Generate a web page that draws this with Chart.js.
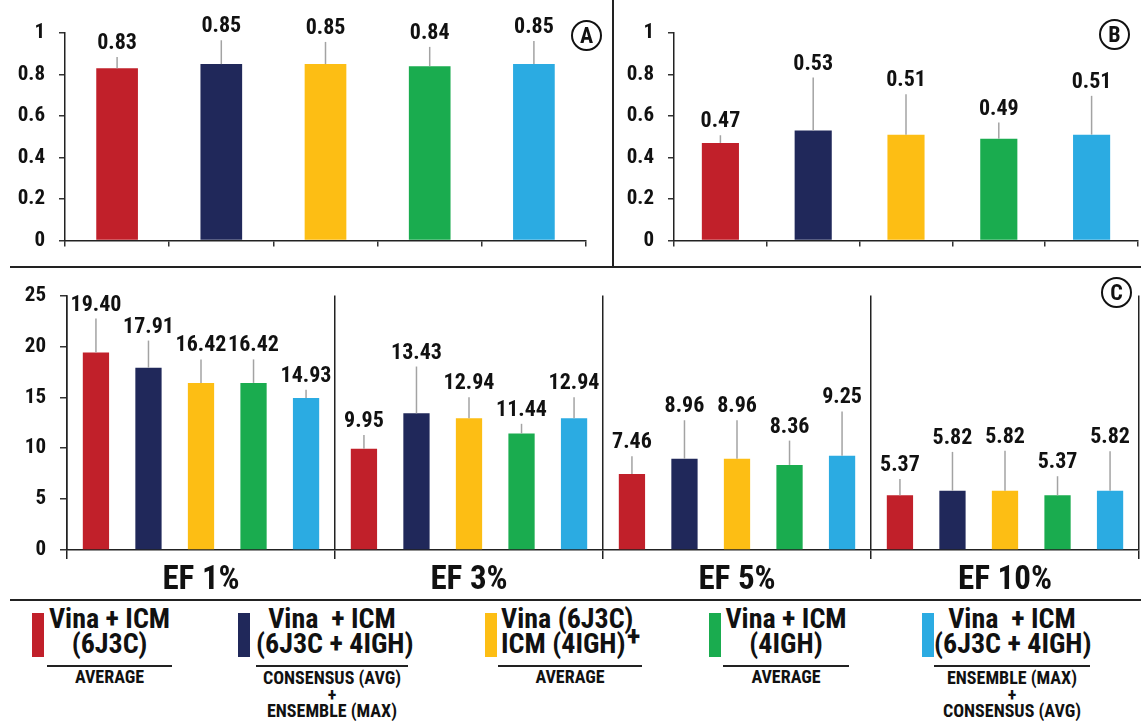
<!DOCTYPE html>
<html>
<head>
<meta charset="utf-8">
<script src="https://cdn.jsdelivr.net/npm/chart.js@4"></script>
<style>
  html, body { margin: 0; padding: 0; background: #fff; }
  body { width: 1141px; height: 721px; position: relative; overflow: hidden;
         font-family: 'Roboto Condensed', Roboto, sans-serif; font-stretch: condensed;
         font-weight: bold; color: #111; }
  canvas { position: absolute; }
  .line { position: absolute; background: #222; }
  .badge { position: absolute; width: 27px; height: 27px; border: 2px solid #111; border-radius: 50%;
           font-size: 22px; line-height: 27px; text-align: center; }
  .sw { position: absolute; width: 12px; height: 44px; top: 613px; }
  .big { position: absolute; font-size: 28px; line-height: 25px; white-space: nowrap; }
  .small { position: absolute; font-size: 18px; line-height: 16.5px; white-space: nowrap; text-align: center; }
</style>
</head>
<body>
<canvas id="chartA" width="614" height="267" style="left:0;top:0"></canvas>
<canvas id="chartB" width="527" height="267" style="left:614px;top:0"></canvas>
<canvas id="chartC" width="1141" height="331" style="left:0;top:269px"></canvas>

<div class="line" style="left:612px;top:0;width:2px;height:267px"></div>
<div class="line" style="left:10px;top:266px;width:1131px;height:2px"></div>
<div class="line" style="left:10px;top:599px;width:1131px;height:2px"></div>

<div class="badge" style="left:571px;top:20px">A</div>
<div class="badge" style="left:1099px;top:19px">B</div>
<div class="badge" style="left:1101px;top:277px">C</div>

<!-- legend -->
<div class="sw" style="left:32px;background:#C1202A"></div>
<div class="big" style="left:47px;width:125px;top:606px;text-align:center">Vina + ICM<br>(6J3C)</div>
<div class="line" style="left:47px;top:665px;width:125px;height:2px"></div>
<div class="small" style="left:47px;width:125px;top:669px">AVERAGE</div>

<div class="sw" style="left:238px;background:#20285A"></div>
<div class="big" style="left:256px;width:152px;top:606px;text-align:center">Vina&nbsp; + ICM<br>(6J3C + 4IGH)</div>
<div class="line" style="left:256px;top:665px;width:152px;height:2px"></div>
<div class="small" style="left:256px;width:152px;top:670px">CONSENSUS (AVG)<br>+<br>ENSEMBLE (MAX)</div>

<div class="sw" style="left:485px;background:#FDBE14"></div>
<div class="big" style="left:501px;top:606px;text-align:left">Vina (6J3C)<br>ICM (4IGH)</div>
<div class="big" style="left:627px;top:624px">+</div>
<div class="line" style="left:498px;top:665px;width:144px;height:2px"></div>
<div class="small" style="left:498px;width:144px;top:669px">AVERAGE</div>

<div class="sw" style="left:709px;background:#1AAC4F"></div>
<div class="big" style="left:723px;width:126px;top:606px;text-align:center">Vina + ICM<br>(4IGH)</div>
<div class="line" style="left:723px;top:665px;width:126px;height:2px"></div>
<div class="small" style="left:723px;width:126px;top:669px">AVERAGE</div>

<div class="sw" style="left:922px;background:#2BABE2"></div>
<div class="big" style="left:934px;width:156px;top:606px;text-align:center">Vina&nbsp; + ICM<br>(6J3C + 4IGH)</div>
<div class="line" style="left:934px;top:665px;width:156px;height:2px"></div>
<div class="small" style="left:934px;width:156px;top:670px">ENSEMBLE (MAX)<br>+<br>CONSENSUS (AVG)</div>

<script>
// method names and colours (same order everywhere)
const methodNames = ['Vina + ICM (6J3C)', 'Vina + ICM (6J3C + 4IGH) cons+ens', 'Vina (6J3C) + ICM (4IGH)',
                     'Vina + ICM (4IGH)', 'Vina + ICM (6J3C + 4IGH) ens+cons'];
const methodColors = ['#C1202A', '#20285A', '#FDBE14', '#1AAC4F', '#2BABE2'];

// panel A
const panelAValues = [0.83, 0.85, 0.85, 0.84, 0.85];
const panelAErrors = [0.054, 0.115, 0.107, 0.093, 0.112];

// panel B
const panelBValues = [0.47, 0.53, 0.51, 0.49, 0.51];
const panelBErrors = [0.037, 0.255, 0.195, 0.078, 0.187];

// panel C, one array per method across the EF levels
const efLabels = ['EF 1%', 'EF 3%', 'EF 5%', 'EF 10%'];
const redValues    = [19.40, 9.95, 7.46, 5.37];
const redErrors    = [3.34, 1.34, 1.76, 1.60];
const navyValues   = [17.91, 13.43, 8.96, 5.82];
const navyErrors   = [2.67, 4.60, 3.79, 3.82];
const yellowValues = [16.42, 12.94, 8.96, 5.82];
const yellowErrors = [2.31, 2.07, 3.79, 3.94];
const greenValues  = [16.42, 11.44, 8.36, 5.37];
const greenErrors  = [2.31, 0.96, 2.39, 1.88];
const blueValues   = [14.93, 12.94, 9.25, 5.82];
const blueErrors   = [0.81, 2.07, 4.37, 3.88];

const FONT = "'Roboto Condensed', Roboto, sans-serif";
Chart.defaults.font.family = FONT;
Chart.defaults.font.weight = 'bold';
Chart.defaults.color = '#111';

// make every canvas text condensed
const condensed = {
  id: 'condensed',
  beforeDraw(chart) { chart.ctx.fontStretch = 'condensed'; }
};

// draws the upper error line and the value above it
const errorLabels = {
  id: 'errorLabels',
  afterDatasetsDraw(chart, args, opts) {
    const ctx = chart.ctx;
    const y = chart.scales.y;
    chart.data.datasets.forEach((ds, di) => {
      chart.getDatasetMeta(di).data.forEach((bar, i) => {
        const v = ds.data[i];
        const top = y.getPixelForValue(v + ds.errors[i]);
        ctx.save();
        ctx.strokeStyle = '#a3a3a3';
        ctx.lineWidth = 1.5;
        ctx.beginPath();
        ctx.moveTo(bar.x, bar.y);
        ctx.lineTo(bar.x, top);
        ctx.stroke();
        ctx.fillStyle = '#111';
        ctx.fontStretch = 'condensed';
        ctx.font = 'bold ' + opts.size + 'px ' + FONT;
        ctx.textAlign = 'center';
        ctx.textBaseline = 'alphabetic';
        ctx.fillText(v.toFixed(2), bar.x, top - 8);
        ctx.restore();
      });
    });
  }
};

const plainNumber = v => String(Number(v.toFixed(2)));

function smallPanel(id, values, errors, yWidth, padRight) {
  return new Chart(document.getElementById(id), {
    type: 'bar',
    data: {
      labels: methodNames,
      datasets: [{ data: values, errors: errors, backgroundColor: methodColors,
                   barPercentage: 0.4, categoryPercentage: 1 }]
    },
    options: {
      responsive: false,
      animation: false,
      layout: { padding: { top: 33, right: padRight, left: 0, bottom: 0 } },
      plugins: { legend: { display: false }, tooltip: { enabled: false }, errorLabels: { size: 22 } },
      scales: {
        x: {
          ticks: { display: false },
          grid: { drawOnChartArea: false, drawTicks: true, tickLength: 6, color: '#333', lineWidth: 1.5 },
          border: { color: '#222', width: 1.5 },
          afterFit: s => { s.height = 15; }
        },
        y: {
          min: 0, max: 1,
          ticks: { stepSize: 0.2, padding: 14, font: { size: 21 }, callback: plainNumber },
          grid: { drawOnChartArea: false, drawTicks: true, tickLength: 6, color: '#333', lineWidth: 1.5 },
          border: { color: '#222', width: 1.5 },
          afterFit: s => { s.width = yWidth; }
        }
      }
    },
    plugins: [condensed, errorLabels]
  });
}

smallPanel('chartA', panelAValues, panelAErrors, 65, 28);
smallPanel('chartB', panelBValues, panelBErrors, 60, 3);

const cValues = [redValues, navyValues, yellowValues, greenValues, blueValues];
const cErrors = [redErrors, navyErrors, yellowErrors, greenErrors, blueErrors];

new Chart(document.getElementById('chartC'), {
  type: 'bar',
  data: {
    labels: efLabels,
    datasets: methodNames.map((name, k) => ({
      label: name,
      data: cValues[k],
      errors: cErrors[k],
      backgroundColor: methodColors[k],
      barPercentage: 0.5,
      categoryPercentage: 0.98
    }))
  },
  options: {
    responsive: false,
    animation: false,
    layout: { padding: { top: 19, right: 2, left: 0, bottom: 0 } },
    plugins: { legend: { display: false }, tooltip: { enabled: false }, errorLabels: { size: 22 } },
    scales: {
      x: {
        ticks: { padding: 2, font: { size: 33 }, color: '#111' },
        grid: { drawOnChartArea: true, offset: true, drawTicks: true, tickLength: 9, color: '#222', lineWidth: 1.5 },
        border: { color: '#222', width: 1.5 },
        afterFit: s => { s.height = 50; }
      },
      y: {
        min: 0, max: 25,
        ticks: { stepSize: 5, padding: 14, font: { size: 21 }, callback: plainNumber },
        grid: { drawOnChartArea: false, drawTicks: true, tickLength: 7, color: '#333', lineWidth: 1.5 },
        border: { color: '#222', width: 1.5 },
        afterFit: s => { s.width = 67; }
      }
    }
  },
  plugins: [condensed, errorLabels]
});
</script>
</body>
</html>
